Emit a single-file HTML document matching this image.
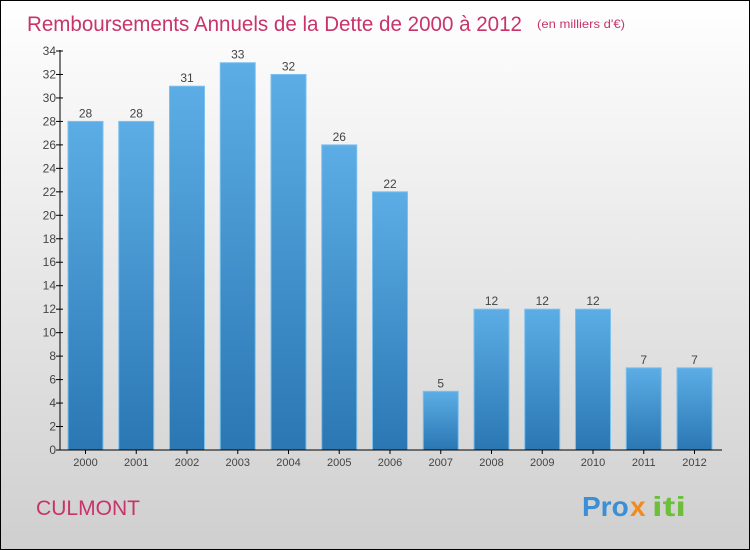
<!DOCTYPE html>
<html><head><meta charset="utf-8"><style>
body{margin:0}
#c{width:750px;height:550px;position:relative;overflow:hidden}
svg text{font-family:"Liberation Sans",sans-serif}
</style></head><body>
<div id="c">
<svg id="s" width="750" height="550" xmlns="http://www.w3.org/2000/svg">
<defs>
<linearGradient id="bg" x1="0" y1="0" x2="0" y2="1"><stop offset="0" stop-color="#ffffff"/><stop offset="1" stop-color="#cfcfcf"/></linearGradient>
<linearGradient id="bar" x1="0" y1="0" x2="0" y2="1"><stop offset="0" stop-color="#5cade6"/><stop offset="1" stop-color="#2a77b3"/></linearGradient>
</defs>
<rect x="0.5" y="0.5" width="749" height="549" fill="url(#bg)" stroke="#000"/>
<text x="27" y="31" font-size="21" fill="#c8336a" textLength="495" lengthAdjust="spacingAndGlyphs">Remboursements Annuels de la Dette de 2000 à 2012</text>
<text x="537" y="28" font-size="12" fill="#c8336a" textLength="88" lengthAdjust="spacingAndGlyphs">(en milliers d'€)</text>
<text x="36" y="515" font-size="21" fill="#c8336a" textLength="104" lengthAdjust="spacingAndGlyphs">CULMONT</text>
<g font-size="28" font-weight="bold">
<text x="582" y="516" fill="#3a8fd6">Pro</text><text x="630" y="516" fill="#f28a1c">x</text><text x="652" y="516" fill="#6bbf3a" textLength="34" lengthAdjust="spacingAndGlyphs">iti</text>
</g>
<g id="plot"></g>
</svg>
</div>
<script>
const categories=["2000","2001","2002","2003","2004","2005","2006","2007","2008","2009","2010","2011","2012"];
const values=[28,28,31,33,32,26,22,5,12,12,12,7,7];
const yTicks=[0,2,4,6,8,10,12,14,16,18,20,22,24,26,28,30,32,34];
const NS="http://www.w3.org/2000/svg";
const g=document.getElementById('plot');
const y0=450,yTop=51,yMax=34,x0=60,step=50.75,bw=35;
function ys(v){return y0-(v/yMax)*(y0-yTop);}
function xs(i){return 85.5+i*step;}
function mk(t,a){const e=document.createElementNS(NS,t);for(const k in a)e.setAttribute(k,a[k]);g.appendChild(e);return e;}
yTicks.forEach(v=>{
 const l=mk('line',{x1:x0-4,x2:x0+3,y1:ys(v),y2:ys(v),stroke:'#000'});
 
 
 const t=mk('text',{x:x0-4,y:ys(v)+4,'font-size':12,fill:'#444','text-anchor':'end'});
 t.textContent=v;
 
 
});
values.forEach((v,i)=>{
 const r=mk('rect',{x:xs(i)-bw/2,y:ys(v),width:bw,height:y0-ys(v),fill:'url(#bar)',stroke:'#7cc0ee','stroke-width':1});
 
 
 const t=mk('text',{x:xs(i),y:ys(v)-4,'font-size':12,fill:'#444','text-anchor':'middle'});
 t.textContent=v;
 
 
 const c=mk('text',{x:xs(i),y:y0+16,'font-size':11,fill:'#444','text-anchor':'middle'});
 c.textContent=categories[i];
 
 
 const tk=mk('line',{x1:xs(i),x2:xs(i),y1:y0,y2:y0+4,stroke:'#000'});
 
 
});
const ya=mk('line',{x1:x0,x2:x0,y1:yTop-1,y2:y0,stroke:'#000'});


const xa=mk('line',{x1:x0-4,x2:722,y1:y0,y2:y0,stroke:'#000'});


</script>
</body></html>
